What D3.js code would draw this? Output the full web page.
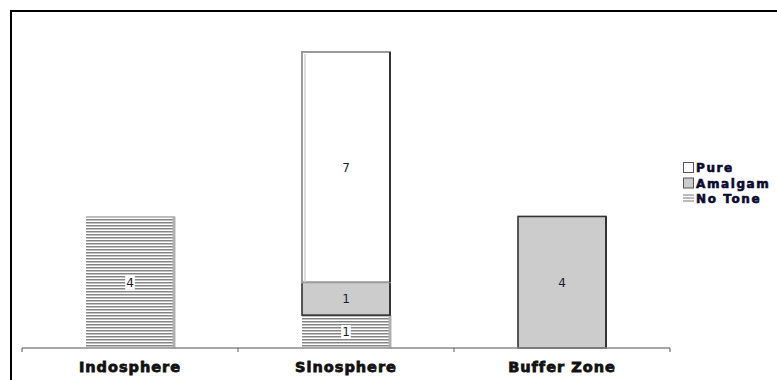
<!DOCTYPE html>
<html>
<head>
<meta charset="utf-8">
<script src="https://cdn.jsdelivr.net/npm/d3@7"></script>
<style>
  html, body { margin: 0; padding: 0; background: #fff; }
  svg { display: block; }
</style>
</head>
<body>
<svg id="chart" width="777" height="380"></svg>
<script>
// Tone types per region, stacked bottom to top
const categories = ["Indosphere", "Sinosphere", "Buffer Zone"];
const seriesNames = ["No Tone", "Amalgam", "Pure"];
const noTone  = [4, 1, 0];
const amalgam = [0, 1, 4];
const pure    = [0, 7, 0];
const legendOrder = ["Pure", "Amalgam", "No Tone"];

const svg = d3.select("#chart");
const W = 777, H = 380;

// Pattern for the "No Tone" series: thin grey horizontal lines
const defs = svg.append("defs");
const pat = defs.append("pattern")
  .attr("id", "hlines").attr("patternUnits", "userSpaceOnUse")
  .attr("width", 6).attr("height", 3);
pat.append("rect").attr("width", 6).attr("height", 3).attr("fill", "#fff");
pat.append("rect").attr("y", 0).attr("width", 6).attr("height", 1.5).attr("fill", "#858585");

// Outer frame (left and top edges)
svg.append("path")
  .attr("d", `M11,${H} L11,11 L${W},11`)
  .attr("fill", "none").attr("stroke", "#000").attr("stroke-width", 2);

const plotLeft = 22, plotRight = 670, baseY = 348, topY = 52;

const x = d3.scaleBand().domain(categories).range([plotLeft, plotRight]).paddingInner(0).paddingOuter(0);
const y = d3.scaleLinear().domain([0, 9]).range([baseY, topY]);
const barW = 88;

const data = categories.map((c, i) => ({ cat: c, "No Tone": noTone[i], "Amalgam": amalgam[i], "Pure": pure[i] }));
const stacked = d3.stack().keys(seriesNames)(data);

const fills = { "No Tone": "url(#hlines)", "Amalgam": "#cccccc", "Pure": "#ffffff" };
const strokes = { "No Tone": "none", "Amalgam": "#333", "Pure": "#9a9a9a" };

const gBars = svg.append("g");
stacked.forEach(layer => {
  const key = layer.key;
  layer.forEach((d, i) => {
    const v = d[1] - d[0];
    if (v <= 0) return;
    const cx = x(categories[i]) + x.bandwidth() / 2;
    const x0 = cx - barW / 2;
    const y0 = y(d[1]), y1 = y(d[0]);
    gBars.append("rect")
      .attr("x", x0).attr("y", y0)
      .attr("width", barW).attr("height", y1 - y0)
      .attr("fill", fills[key])
      .attr("stroke", strokes[key]).attr("stroke-width", key === "Pure" ? 2 : 1.6);
    // shaded right edge
    gBars.append("line")
      .attr("x1", x0 + barW).attr("x2", x0 + barW)
      .attr("y1", y0).attr("y2", y1)
      .attr("stroke", key === "No Tone" ? "#b0b0b0" : "#333")
      .attr("stroke-width", key === "No Tone" ? 3 : 2);
    if (key === "Pure") {
      gBars.append("line")
        .attr("x1", x0 + 3).attr("x2", x0 + 3).attr("y1", y0 + 2).attr("y2", y1)
        .attr("stroke", "#d0d0d0").attr("stroke-width", 1.5);
    }
    // value label
    const ly = (y0 + y1) / 2;
    const lbl = gBars.append("g");
    const t = lbl.append("text")
      .attr("x", cx).attr("y", ly + 4.5)
      .attr("text-anchor", "middle")
      .attr("font-family", "DejaVu Sans, Verdana, sans-serif")
      .attr("font-size", 12)
      .attr("fill", "#1a1a33")
      .text(v);
    if (key === "No Tone") {
      const bb = t.node().getBBox();
      lbl.insert("rect", "text")
        .attr("x", bb.x - 1).attr("y", bb.y)
        .attr("width", bb.width + 2).attr("height", bb.height)
        .attr("fill", "#fff");
    }
  });
});

// Category axis
const axis = svg.append("g");
axis.append("line")
  .attr("x1", plotLeft).attr("x2", plotRight)
  .attr("y1", baseY).attr("y2", baseY)
  .attr("stroke", "#8a8a8a").attr("stroke-width", 1.5);
const tickXs = categories.map(c => x(c)).concat([x(categories[categories.length - 1]) + x.bandwidth()]);
tickXs.forEach(tx => {
  axis.append("line")
    .attr("x1", tx).attr("x2", tx).attr("y1", baseY).attr("y2", baseY + 4)
    .attr("stroke", "#555").attr("stroke-width", 1);
});
categories.forEach(c => {
  axis.append("text")
    .attr("x", x(c) + x.bandwidth() / 2).attr("y", 372)
    .attr("text-anchor", "middle")
    .attr("font-family", "DejaVu Sans, Verdana, sans-serif")
    .attr("font-weight", "bold")
    .attr("font-size", 14.5)
    .attr("letter-spacing", 1.0)
    .attr("fill", "#111")
    .attr("stroke", "#111").attr("stroke-width", 0.8)
    .text(c);
});

// Legend
const legend = svg.append("g").attr("transform", "translate(683,162)");
legendOrder.forEach((name, i) => {
  const g = legend.append("g").attr("transform", `translate(0,${i * 15.5})`);
  if (name === "No Tone") {
    [2, 5, 8].forEach(dy => g.append("line")
      .attr("x1", 0).attr("x2", 11).attr("y1", dy).attr("y2", dy)
      .attr("stroke", "#777").attr("stroke-width", 1));
  } else {
    g.append("rect")
      .attr("x", 0.5).attr("y", 0.5).attr("width", 10).attr("height", 10)
      .attr("fill", name === "Pure" ? "#fff" : "#cccccc")
      .attr("stroke", "#555").attr("stroke-width", 1);
  }
  g.append("text")
    .attr("x", 13).attr("y", 10)
    .attr("font-family", "DejaVu Sans, Verdana, sans-serif")
    .attr("font-weight", "bold")
    .attr("font-size", 12)
    .attr("letter-spacing", 1.6)
    .attr("fill", "#0a0a30")
    .attr("stroke", "#0a0a30").attr("stroke-width", 0.6)
    .text(name);
});
</script>
</body>
</html>
